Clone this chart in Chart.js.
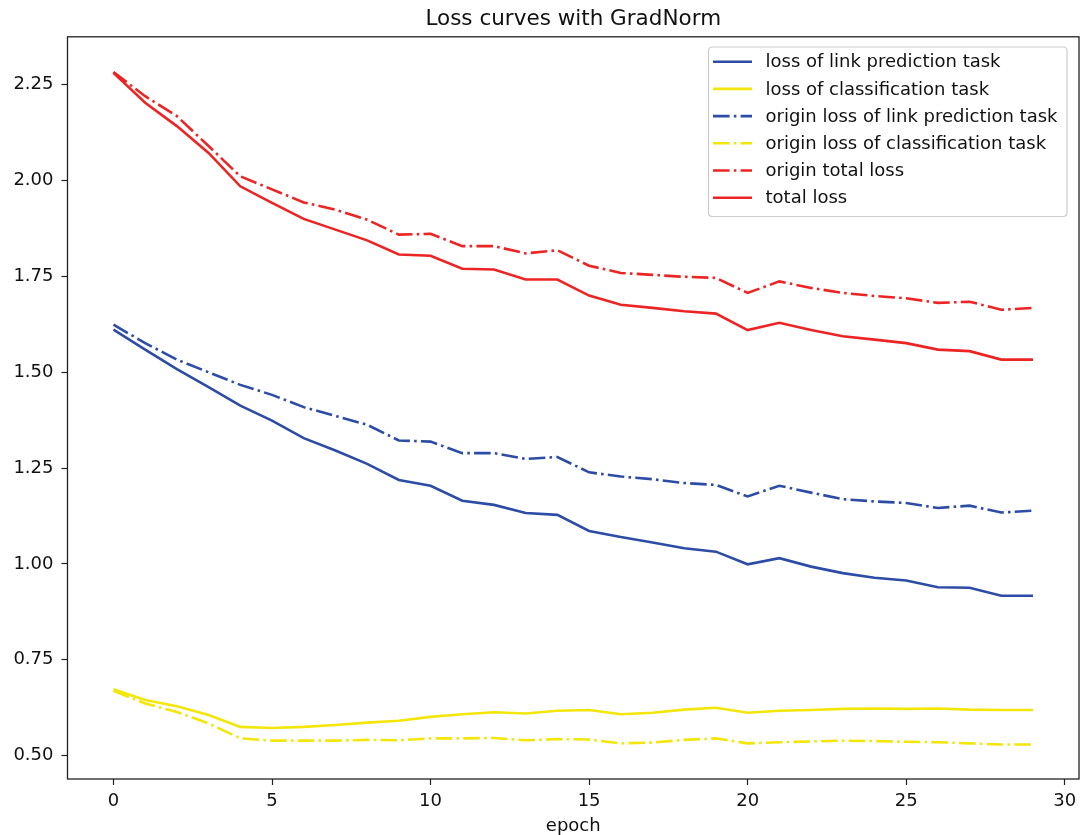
<!DOCTYPE html>
<html>
<head>
<meta charset="utf-8">
<script src="https://cdn.jsdelivr.net/npm/chart.js@4.4.1/dist/chart.umd.min.js"></script>
<style>
  html, body { margin: 0; padding: 0; background: #fff; }
  #wrap { width: 1086px; height: 835px; position: relative; }
</style>
</head>
<body>
<div id="wrap"><canvas id="c" width="1086" height="835"></canvas></div>
<script>
const epochs = [0,1,2,3,4,5,6,7,8,9,10,11,12,13,14,15,16,17,18,19,20,21,22,23,24,25,26,27,28,29];
const linkLoss = [1.611,1.559,1.508,1.461,1.413,1.374,1.328,1.296,1.261,1.219,1.204,1.165,1.154,1.133,1.128,1.086,1.070,1.056,1.041,1.032,0.999,1.015,0.993,0.976,0.964,0.957,0.939,0.938,0.917,0.917];
const clsLoss = [0.673,0.645,0.629,0.606,0.575,0.572,0.575,0.580,0.586,0.591,0.601,0.608,0.613,0.610,0.617,0.619,0.608,0.612,0.620,0.625,0.612,0.617,0.619,0.622,0.623,0.622,0.623,0.620,0.619,0.619];
const originLinkLoss = [1.624,1.576,1.533,1.500,1.467,1.441,1.409,1.386,1.363,1.322,1.319,1.289,1.289,1.274,1.279,1.239,1.228,1.221,1.211,1.206,1.176,1.204,1.186,1.169,1.163,1.159,1.146,1.152,1.134,1.139];
const originClsLoss = [0.669,0.636,0.614,0.584,0.545,0.539,0.539,0.539,0.541,0.540,0.545,0.545,0.546,0.540,0.543,0.542,0.532,0.534,0.541,0.545,0.532,0.535,0.537,0.539,0.538,0.536,0.535,0.532,0.529,0.529];
const originTotalLoss = [2.283,2.220,2.168,2.090,2.011,1.977,1.943,1.924,1.898,1.859,1.861,1.829,1.829,1.810,1.818,1.778,1.759,1.754,1.749,1.746,1.707,1.737,1.720,1.707,1.699,1.693,1.681,1.684,1.663,1.668];
const totalLoss = [2.281,2.203,2.142,2.072,1.985,1.942,1.900,1.872,1.844,1.807,1.804,1.770,1.768,1.742,1.742,1.700,1.676,1.668,1.659,1.653,1.610,1.629,1.610,1.594,1.585,1.576,1.559,1.555,1.533,1.533];
const xTicks = [0,5,10,15,20,25,30];
const yTicks = [0.50,0.75,1.00,1.25,1.50,1.75,2.00,2.25];
const seriesLabels = ['loss of link prediction task','loss of classification task','origin loss of link prediction task','origin loss of classification task','origin total loss','total loss'];

const BLUE = '#2d4ca6', YELLOW = '#f2e60a', RED = '#ec2424';
const LW = 2.6;
const DASHDOT = [16.6, 4.2, 2.6, 4.2];
const FONT = 'DejaVu Sans';

function pts(arr) { return epochs.map((e, i) => ({x: e, y: arr[i]})); }
function ds(label, arr, color, dash, order) {
  return { label, data: pts(arr), borderColor: color, backgroundColor: color, borderWidth: LW,
           borderDash: dash, pointRadius: 0, pointHoverRadius: 0, tension: 0, fill: false, order };
}

const legendPlugin = {
  id: 'boxLegend',
  afterDraw(chart) {
    const ctx = chart.ctx;
    const ca = chart.chartArea;
    ctx.save();
    ctx.strokeStyle = '#222';
    ctx.lineWidth = 1.3;
    ctx.strokeRect(ca.left, ca.top, ca.right - ca.left, ca.bottom - ca.top);
    const bx = 708.5, by = 47, bw = 358.5, bh = 169.5, r = 4;
    ctx.beginPath();
    ctx.moveTo(bx + r, by);
    ctx.lineTo(bx + bw - r, by); ctx.quadraticCurveTo(bx + bw, by, bx + bw, by + r);
    ctx.lineTo(bx + bw, by + bh - r); ctx.quadraticCurveTo(bx + bw, by + bh, bx + bw - r, by + bh);
    ctx.lineTo(bx + r, by + bh); ctx.quadraticCurveTo(bx, by + bh, bx, by + bh - r);
    ctx.lineTo(bx, by + r); ctx.quadraticCurveTo(bx, by, bx + r, by);
    ctx.closePath();
    ctx.fillStyle = 'rgba(255,255,255,0.85)';
    ctx.fill();
    ctx.strokeStyle = '#cccccc';
    ctx.lineWidth = 1.2;
    ctx.stroke();
    ctx.font = '18px "' + FONT + '"';
    ctx.textBaseline = 'middle';
    ctx.textAlign = 'left';
    chart.data.datasets.forEach((d, i) => {
      const y = 61.7 + i * 27.2;
      ctx.beginPath();
      ctx.setLineDash(d.borderDash || []);
      ctx.lineDashOffset = 0;
      ctx.strokeStyle = d.borderColor;
      ctx.lineWidth = LW;
      ctx.moveTo(713, y);
      ctx.lineTo(752, y);
      ctx.stroke();
      ctx.setLineDash([]);
      ctx.fillStyle = '#111';
      ctx.fillText(d.label, 765.5, y + 1);
    });
    ctx.restore();
  }
};

new Chart(document.getElementById('c'), {
  type: 'line',
  data: {
    datasets: [
      ds(seriesLabels[0], linkLoss, BLUE, [], 6),
      ds(seriesLabels[1], clsLoss, YELLOW, [], 5),
      ds(seriesLabels[2], originLinkLoss, BLUE, DASHDOT, 4),
      ds(seriesLabels[3], originClsLoss, YELLOW, DASHDOT, 3),
      ds(seriesLabels[4], originTotalLoss, RED, DASHDOT, 2),
      ds(seriesLabels[5], totalLoss, RED, [], 1)
    ]
  },
  options: {
    responsive: false,
    animation: false,
    devicePixelRatio: 1,
    layout: { padding: { left: 0, right: 7, top: 0, bottom: 0 } },
    plugins: {
      legend: { display: false },
      tooltip: { enabled: false },
      title: {
        display: true, text: 'Loss curves with GradNorm', fullSize: false,
        color: '#111', font: { family: FONT, size: 21.5, weight: 'normal' },
        padding: { top: 7, bottom: 4 }
      }
    },
    scales: {
      x: {
        type: 'linear', min: -1.45, max: 30.45,
        afterBuildTicks: (s) => { s.ticks = xTicks.map(v => ({value: v})); },
        afterFit: (s) => { s.height = 56; },
        grid: { display: true, drawOnChartArea: false, drawTicks: true, tickLength: 6, tickColor: '#222', tickWidth: 1.2 },
        border: { display: false },
        ticks: { color: '#111', font: { family: FONT, size: 18 }, padding: 6, maxRotation: 0,
                 callback: (v) => String(v) },
        title: { display: true, text: 'epoch', color: '#111', font: { family: FONT, size: 18 }, padding: { top: 0, bottom: -2 } }
      },
      y: {
        type: 'linear', min: 0.439, max: 2.375,
        afterBuildTicks: (s) => { s.ticks = yTicks.map(v => ({value: v})); },
        afterFit: (s) => { s.width = 67.5; },
        grid: { display: true, drawOnChartArea: false, drawTicks: true, tickLength: 6, tickColor: '#222', tickWidth: 1.2 },
        border: { display: false },
        ticks: { color: '#111', font: { family: FONT, size: 18 }, padding: 8,
                 callback: (v) => Number(v).toFixed(2) }
      }
    }
  },
  plugins: [legendPlugin]
});
</script>
</body>
</html>
